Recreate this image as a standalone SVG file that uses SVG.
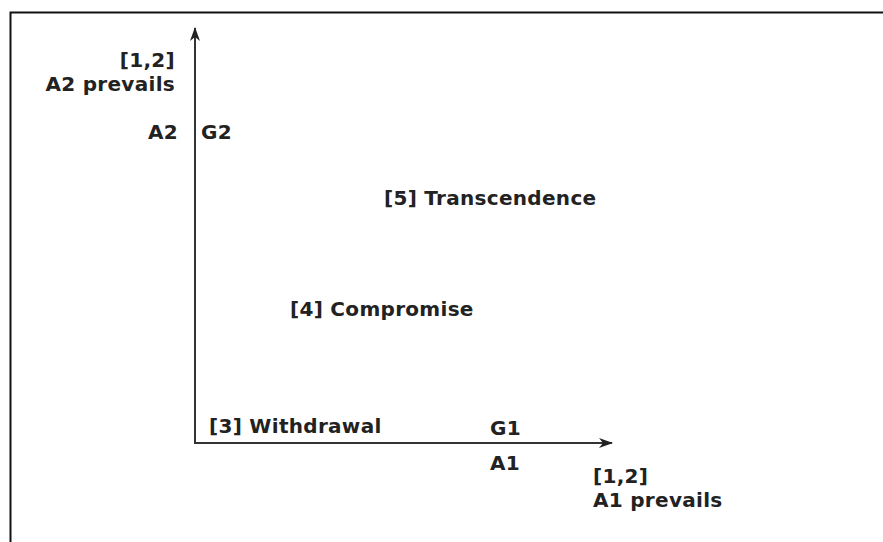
<svg xmlns="http://www.w3.org/2000/svg" width="883" height="542" viewBox="0 0 883 542">
<style>
text{font-family:"DejaVu Sans",Verdana,sans-serif;font-weight:bold;font-size:20px;letter-spacing:0.3px;fill:#222}
.ax{stroke:#333;stroke-width:2;fill:none}
</style>
<defs>
<marker id="ah" viewBox="0 0 14 10" refX="13" refY="5" markerWidth="14" markerHeight="10" markerUnits="userSpaceOnUse" orient="auto">
<path d="M0,0 L14,5 L0,10 L4,5 Z" fill="#222"/>
</marker>
</defs>
<rect width="883" height="542" fill="#fff"/>
<path d="M10.5,542 V12.5 H883" stroke="#111" stroke-width="2" fill="none"/>
<g id="connectors">
<path class="ax" d="M195,444 V28" marker-end="url(#ah)"/>
<path class="ax" d="M194,443 H612" marker-end="url(#ah)"/>
</g>
<g id="y-axis-labels">
<text x="175" y="67" text-anchor="end">[1,2]</text>
<text x="175" y="91" text-anchor="end">A2 prevails</text>
<text x="178" y="139" text-anchor="end">A2</text>
<text x="201" y="139">G2</text>
</g>
<g id="transcendence"><text x="384" y="205">[5] Transcendence</text></g>
<g id="compromise"><text x="290" y="316">[4] Compromise</text></g>
<g id="withdrawal"><text x="209" y="433">[3] Withdrawal</text></g>
<g id="x-axis-labels">
<text x="490" y="435">G1</text>
<text x="490" y="470">A1</text>
<text x="593" y="483">[1,2]</text>
<text x="593" y="507">A1 prevails</text>
</g>
</svg>
